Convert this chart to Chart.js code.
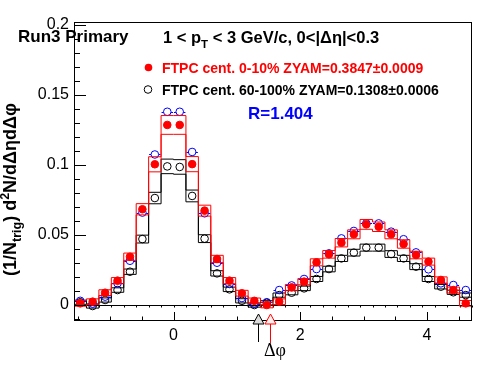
<!DOCTYPE html>
<html><head><meta charset="utf-8">
<script src="https://cdn.jsdelivr.net/npm/chart.js@4/dist/chart.umd.min.js"></script>
<style>html,body{margin:0;padding:0;background:#fff;}#wrap{width:496px;height:374px;position:relative;}</style>
</head><body><div id="wrap"><canvas id="c" width="496" height="374"></canvas></div>
<script>
// ---- data ----
const binEdges = [-1.5708,-1.3744,-1.1781,-0.9817,-0.7854,-0.5890,-0.3927,-0.1963,0,0.1963,0.3927,0.5890,0.7854,0.9817,1.1781,1.3744,1.5708,1.7671,1.9635,2.1598,2.3562,2.5525,2.7489,2.9452,3.1416,3.3379,3.5343,3.7306,3.9270,4.1233,4.3197,4.5160,4.7124];
const redCentral = [0.0012,0.0024,0.0088,0.0174,0.0345,0.0684,0.1005,0.1286,0.1286,0.1006,0.0674,0.0329,0.0174,0.0084,0.0030,0.0000,0.0024,0.0126,0.0167,0.0305,0.0362,0.0445,0.0505,0.0576,0.0559,0.0505,0.0436,0.0357,0.0310,0.0179,0.0107,0.0012];
const redUpper = [0.0032,0.0044,0.0109,0.0196,0.0371,0.0724,0.1059,0.1353,0.1353,0.1060,0.0713,0.0355,0.0196,0.0105,0.0050,0.0020,0.0044,0.0147,0.0189,0.0330,0.0389,0.0475,0.0537,0.0611,0.0593,0.0537,0.0466,0.0384,0.0335,0.0201,0.0128,0.0032];
const redLower = [-0.0008,0.0004,0.0068,0.0152,0.0319,0.0644,0.0951,0.1219,0.1219,0.0952,0.0635,0.0303,0.0152,0.0064,0.0010,-0.0020,0.0004,0.0105,0.0145,0.0280,0.0335,0.0415,0.0473,0.0541,0.0525,0.0473,0.0406,0.0330,0.0285,0.0157,0.0086,-0.0008];
const blackCentral = [0.0020,-0.0007,0.0036,0.0107,0.0238,0.0471,0.0764,0.0990,0.0986,0.0779,0.0474,0.0226,0.0112,0.0030,0.0000,0.0016,0.0071,0.0088,0.0119,0.0186,0.0257,0.0333,0.0374,0.0410,0.0410,0.0364,0.0333,0.0274,0.0186,0.0131,0.0091,0.0071];
const blackUpper = [0.0035,0.0008,0.0051,0.0123,0.0257,0.0499,0.0805,0.1042,0.1038,0.0821,0.0502,0.0245,0.0128,0.0045,0.0015,0.0031,0.0086,0.0103,0.0135,0.0204,0.0277,0.0355,0.0398,0.0435,0.0435,0.0388,0.0355,0.0295,0.0204,0.0147,0.0106,0.0086];
const blackLower = [0.0005,-0.0022,0.0021,0.0091,0.0219,0.0443,0.0723,0.0938,0.0934,0.0737,0.0446,0.0207,0.0096,0.0015,-0.0015,0.0001,0.0056,0.0073,0.0103,0.0168,0.0237,0.0311,0.0350,0.0385,0.0385,0.0340,0.0311,0.0253,0.0168,0.0115,0.0076,0.0056];
const blueCentral = [0.0030,0.0010,0.0060,0.0155,0.0316,0.0660,0.1075,0.1380,0.1380,0.1093,0.0655,0.0302,0.0150,0.0050,0.0010,0.0020,0.0107,0.0140,0.0186,0.0257,0.0369,0.0476,0.0529,0.0583,0.0583,0.0524,0.0470,0.0376,0.0255,0.0155,0.0143,0.0107];
const yTickValues = [0, 0.05, 0.1, 0.15, 0.2];
const xTickValues = [0, 2, 4];
const yRange = [-0.0114, 0.2021];
const zyamMinX = [1.34, 1.53];
const legendLabels = ["FTPC cent. 0-10% ZYAM=0.3847\u00b10.0009", "FTPC cent. 60-100% ZYAM=0.1308\u00b10.0006"];
const ratioLabel = "R=1.404";
const runLabel = "Run3 Primary";

// ---- build library tables ----
const binCenters = binEdges.slice(0, -1).map((e, i) => (e + binEdges[i + 1]) / 2);
const pts = arr => arr.map((v, i) => ({x: binCenters[i], y: v}));
const steps = arr => binEdges.map((e, k) => ({x: e, y: arr[Math.min(k, arr.length - 1)]}));

const SANS = '"Liberation Sans", Arial, Helvetica, sans-serif';
const RED = '#ff0000', BLUE = '#0000ff', BLACK = '#000000';

function stepDs(arr, color, order) {
  return {data: steps(arr), showLine: true, stepped: true, borderColor: color, borderWidth: 1,
          pointRadius: 0, pointHoverRadius: 0, fill: false, order: order};
}

const datasets = [
  {label: 'red', data: pts(redCentral), pointRadius: 3.8, pointStyle: 'circle', backgroundColor: RED, borderColor: RED, borderWidth: 1, order: 0},
  stepDs(redUpper, RED, 1),
  stepDs(redLower, RED, 1),
  {label: 'blue', data: pts(blueCentral), pointRadius: 3.8, pointStyle: 'circle', backgroundColor: 'rgba(0,0,0,0)', borderColor: BLUE, borderWidth: 1, order: 2},
  {label: 'black', data: pts(blackCentral), pointRadius: 3.8, pointStyle: 'circle', backgroundColor: 'rgba(0,0,0,0)', borderColor: BLACK, borderWidth: 1, order: 3},
  stepDs(blackUpper, BLACK, 4),
  stepDs(blackLower, BLACK, 4)
];

function drawRich(ctx, x, y, segs) {
  let cx = x;
  for (const s of segs) {
    ctx.font = s.f; ctx.fillText(s.t, cx, y + (s.dy || 0));
    cx += ctx.measureText(s.t).width + (s.gap || 0);
  }
  return cx;
}

const decor = {
  id: 'decor',
  beforeDatasetsDraw(chart) {
    const {ctx, chartArea: a, scales: {x, y}} = chart;
    const y0 = Math.round(y.getPixelForValue(0)) + 0.5;
    ctx.save();
    ctx.strokeStyle = BLACK; ctx.lineWidth = 1;
    ctx.beginPath(); ctx.moveTo(a.left, y0); ctx.lineTo(a.right, y0);
    for (const e of binEdges) {
      const px = Math.round(x.getPixelForValue(e)) + 0.5;
      ctx.moveTo(px, y0); ctx.lineTo(px, y0 + 2);
    }
    ctx.stroke();
    ctx.restore();
  },
  afterDatasetDraw(chart, args) {
    if (args.index !== 3) return;
    const {ctx, scales: {x, y}} = chart;
    ctx.save(); ctx.strokeStyle = BLUE; ctx.lineWidth = 1; ctx.beginPath();
    blueCentral.forEach((v, i) => {
      const py = Math.round(y.getPixelForValue(v)) + 0.5;
      const l = x.getPixelForValue(binEdges[i]), r = x.getPixelForValue(binEdges[i + 1]);
      const c = x.getPixelForValue(binCenters[i]);
      ctx.moveTo(l + 0.5, py); ctx.lineTo(c - 3.8, py);
      ctx.moveTo(c + 3.8, py); ctx.lineTo(r - 0.5, py);
    });
    ctx.stroke(); ctx.restore();
  },
  afterDatasetsDraw(chart) {
    const {ctx, chartArea: a, scales: {x, y}} = chart;
    ctx.save();
    ctx.strokeStyle = BLACK; ctx.lineWidth = 1;
    ctx.strokeRect(a.left + 0.5, a.top + 0.5, a.right - a.left - 1, a.bottom - a.top - 1);
    ctx.beginPath();
    for (let k = -1; k <= 20; k++) {
      const v = k * 0.01;
      if (v < yRange[0] || v > yRange[1]) continue;
      const py = Math.round(y.getPixelForValue(v)) + 0.5;
      const len = (k % 5 === 0) ? 12 : 6;
      ctx.moveTo(a.left, py); ctx.lineTo(a.left + len, py);
    }
    for (let k = -3; k <= 9; k++) {
      const v = k * 0.5;
      const px = Math.round(x.getPixelForValue(v)) + 0.5;
      const len = (k % 4 === 0) ? 9 : 4.5;
      ctx.moveTo(px, a.bottom); ctx.lineTo(px, a.bottom - len);
    }
    ctx.stroke();
    const arrowCols = [[BLACK, '#dcdcdc', 342], [RED, '#fff0f0', 343]];
    zyamMinX.forEach((v, i) => {
      const px = Math.round(x.getPixelForValue(v)) + 0.5;
      const [sc, fc, yEnd] = arrowCols[i];
      ctx.beginPath();
      ctx.moveTo(px, a.bottom - 7); ctx.lineTo(px + 5.5, a.bottom + 3); ctx.lineTo(px - 5.5, a.bottom + 3); ctx.closePath();
      ctx.fillStyle = fc; ctx.fill(); ctx.strokeStyle = sc; ctx.stroke();
      ctx.beginPath(); ctx.moveTo(px, a.bottom + 3); ctx.lineTo(px, yEnd); ctx.stroke();
    });
    ctx.restore();
  },
  afterDraw(chart) {
    const {ctx} = chart;
    ctx.save();
    ctx.textBaseline = 'alphabetic'; ctx.textAlign = 'left';
    ctx.fillStyle = BLACK; ctx.font = 'bold 17px ' + SANS;
    ctx.fillText(runLabel, 18, 42);
    const B16 = 'bold 16.5px ' + SANS, B11 = 'bold 11.5px ' + SANS;
    drawRich(ctx, 163, 43, [
      {t: '1 < p', f: B16}, {t: 'T', f: B11, dy: 5},
      {t: ' < 3 GeV/c, 0<|\u0394\u03b7|<0.3', f: B16}
    ]);
    ctx.font = 'bold 14px ' + SANS;
    ctx.fillStyle = RED; ctx.fillText(legendLabels[0], 162, 73);
    ctx.fillStyle = BLACK; ctx.fillText(legendLabels[1], 162, 95);
    ctx.beginPath(); ctx.arc(148.5, 67.5, 3.8, 0, Math.PI * 2); ctx.fillStyle = RED; ctx.fill();
    ctx.beginPath(); ctx.arc(148, 89.5, 3.8, 0, Math.PI * 2); ctx.strokeStyle = BLACK; ctx.lineWidth = 1; ctx.stroke();
    ctx.fillStyle = BLUE; ctx.font = 'bold 17px ' + SANS;
    ctx.fillText(ratioLabel, 248, 119);
    ctx.fillStyle = BLACK; ctx.font = '18px "Liberation Serif", "DejaVu Serif", serif';
    ctx.textAlign = 'right';
    ctx.fillText('\u0394\u03c6', 286, 356);
    ctx.textAlign = 'left';
    ctx.translate(16, 276); ctx.rotate(-Math.PI / 2);
    const Y17 = 'bold 18px ' + SANS, Y12 = 'bold 12.5px ' + SANS;
    drawRich(ctx, 0, 0, [
      {t: '(1/N', f: Y17}, {t: 'trig', f: Y12, dy: 5}, {t: ') d', f: Y17},
      {t: '2', f: Y12, dy: -7}, {t: 'N/d\u0394\u03b7d\u0394\u03c6', f: Y17}
    ]);
    ctx.restore();
  }
};

new Chart(document.getElementById('c'), {
  type: 'scatter',
  data: {datasets},
  options: {
    responsive: false, animation: false, devicePixelRatio: 1,
    layout: {padding: {left: 0, top: 22, right: 24, bottom: 0}},
    plugins: {legend: {display: false}, tooltip: {enabled: false}},
    events: [],
    scales: {
      x: {
        type: 'linear', min: binEdges[0], max: binEdges[binEdges.length - 1],
        afterBuildTicks: s => { s.ticks = xTickValues.map(v => ({value: v})); },
        afterFit: s => { s.height = 53; },
        grid: {display: false, drawTicks: false}, border: {display: false},
        ticks: {color: BLACK, font: {family: SANS, size: 16}, padding: 5, maxRotation: 0, autoSkip: false,
                callback: v => String(v)}
      },
      y: {
        type: 'linear', min: yRange[0], max: yRange[1],
        afterBuildTicks: s => { s.ticks = yTickValues.map(v => ({value: v})); },
        afterFit: s => { s.width = 74; },
        grid: {display: false, drawTicks: false}, border: {display: false},
        ticks: {color: BLACK, font: {family: SANS, size: 16}, padding: 5, autoSkip: false,
                callback: v => String(v)}
      }
    }
  },
  plugins: [decor]
});
</script></body></html>
